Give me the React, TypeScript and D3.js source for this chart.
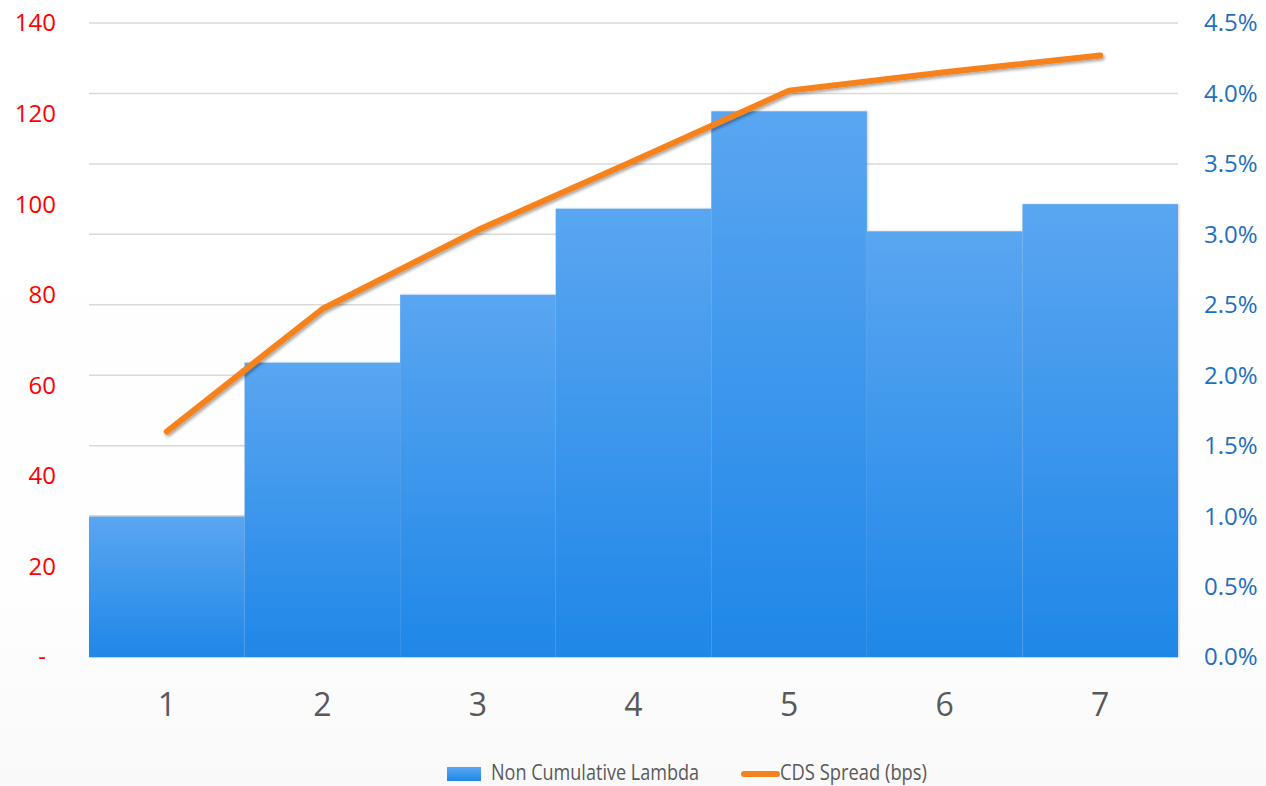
import React from "react";
import * as d3 from "d3";

// Categories along the bottom axis
const categories = ["1", "2", "3", "4", "5", "6", "7"];
// Non cumulative lambda (left axis, bars)
const lambdaValues = [31, 65, 80, 99, 120.5, 94, 100];
// CDS spread as a fraction (right axis, line)
const spreadValues = [0.016, 0.0247, 0.0303, 0.0352, 0.0402, 0.0415, 0.0427];
// Axis ticks
const leftTicks = [0, 20, 40, 60, 80, 100, 120, 140];
const rightTicks = [0, 0.005, 0.01, 0.015, 0.02, 0.025, 0.03, 0.035, 0.04, 0.045];
const legendLabels = ["Non Cumulative Lambda", "CDS Spread (bps)"];

const W = 1266;
const H = 786;
const FONT = "'Open Sans', 'Noto Sans', sans-serif";

export default function App() {
  const left = 89;
  const right = 1178;
  const top = 23;
  const bottom = 657;

  const x = d3.scaleBand<string>().domain(categories).range([left, right]).padding(0);
  const yL = d3.scaleLinear().domain([0, 140]).range([bottom, top]);
  const yR = d3.scaleLinear().domain([0, 0.045]).range([bottom, top]);

  const line = d3
    .line<number>()
    .x((_, i) => (x(categories[i]) as number) + x.bandwidth() / 2)
    .y((d) => yR(d));

  const fmtPct = d3.format(".1%");

  return (
    <svg
      width={W}
      height={H}
      viewBox={`0 0 ${W} ${H}`}
      style={{ position: "absolute", left: 0, top: 0, display: "block" }}
    >
      <defs>
        <linearGradient id="bg" x1="0" y1="0" x2="0" y2="1">
          <stop offset="0" stopColor="#ffffff" />
          <stop offset="0.75" stopColor="#fefefe" />
          <stop offset="1" stopColor="#f9f9f9" />
        </linearGradient>
        <linearGradient id="barFill" x1="0" y1="0" x2="0" y2="1">
          <stop offset="0" stopColor="#5aa6f1" />
          <stop offset="1" stopColor="#1f87e8" />
        </linearGradient>
        <filter id="lineShadow" x="-5%" y="-20%" width="110%" height="140%">
          <feDropShadow dx="1.5" dy="2" stdDeviation="1.5" floodColor="#000" floodOpacity="0.35" />
        </filter>
        <filter id="barShadow" x="-5%" y="-5%" width="110%" height="110%">
          <feDropShadow dx="1" dy="0" stdDeviation="1" floodColor="#000" floodOpacity="0.2" />
        </filter>
      </defs>

      <rect x={0} y={0} width={W} height={H} fill="url(#bg)" />

      {/* Gridlines follow the right axis */}
      <g>
        {rightTicks.map((t) => (
          <line
            key={t}
            x1={left}
            x2={right}
            y1={yR(t)}
            y2={yR(t)}
            stroke="#d9d9d9"
            strokeWidth={1.5}
          />
        ))}
      </g>

      {/* Bars */}
      <g filter="url(#barShadow)">
        {lambdaValues.map((v, i) => (
          <rect
            key={i}
            x={x(categories[i]) as number}
            y={yL(v)}
            width={x.bandwidth()}
            height={yL(0) - yL(v)}
            fill="url(#barFill)"
          />
        ))}
      </g>

      {/* Spread line */}
      <path
        d={line(spreadValues) || ""}
        fill="none"
        stroke="#f6821f"
        strokeWidth={6}
        strokeLinecap="round"
        strokeLinejoin="round"
        filter="url(#lineShadow)"
      />

      {/* Left axis labels */}
      <g fontFamily={FONT} fontSize={24} fill="#ff0000" textAnchor="end">
        {leftTicks.map((t) => (
          <text key={t} x={t === 0 ? 46 : 56} y={yL(t)} dy="0.35em">
            {t === 0 ? "-" : String(t)}
          </text>
        ))}
      </g>

      {/* Right axis labels */}
      <g fontFamily={FONT} fontSize={24} fill="#1f6fbf" textAnchor="start">
        {rightTicks.map((t) => (
          <text key={t} x={1204} y={yR(t)} dy="0.35em">
            {fmtPct(t)}
          </text>
        ))}
      </g>

      {/* Category labels */}
      <g fontFamily={FONT} fontSize={32} fill="#595959" textAnchor="middle">
        {categories.map((c) => (
          <text key={c} x={(x(c) as number) + x.bandwidth() / 2} y={716}>
            {c}
          </text>
        ))}
      </g>

      {/* Legend */}
      <g fontFamily={FONT} fontSize={21} fill="#595959">
        <rect x={447} y={767} width={34} height={14} fill="url(#barFill)" />
        <text x={491} y={780} textLength={208} lengthAdjust="spacingAndGlyphs">
          {legendLabels[0]}
        </text>
        <line
          x1={744}
          x2={777}
          y1={774}
          y2={774}
          stroke="#f6821f"
          strokeWidth={6}
          strokeLinecap="round"
        />
        <text x={780} y={780} textLength={147} lengthAdjust="spacingAndGlyphs">
          {legendLabels[1]}
        </text>
      </g>
    </svg>
  );
}
